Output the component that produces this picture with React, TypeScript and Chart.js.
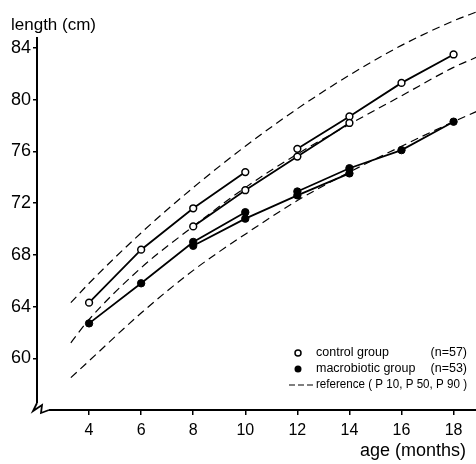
import React, { useEffect, useRef } from "react";
import { Chart, registerables } from "chart.js";

Chart.register(...registerables);

// ---- data ----
const ageTicks = [4, 6, 8, 10, 12, 14, 16, 18];
const lengthTicks = [60, 64, 68, 72, 76, 80, 84];

const controlAgeA = [4, 6, 8, 10];
const controlLenA = [64.3, 68.4, 71.6, 74.4];
const controlAgeB = [8, 10, 12, 14];
const controlLenB = [70.2, 73.0, 75.6, 78.2];
const controlAgeC = [12, 14, 16, 18];
const controlLenC = [76.2, 78.7, 81.3, 83.5];

const macroAgeA = [4, 6, 8, 10];
const macroLenA = [62.7, 65.8, 69.0, 71.3];
const macroAgeB = [8, 10, 12, 14];
const macroLenB = [68.7, 70.8, 72.6, 74.3];
const macroAgeC = [12, 14, 16, 18];
const macroLenC = [72.9, 74.7, 76.1, 78.3];

const refAge = [3.3, 4, 6, 8, 10, 12, 14, 16, 18, 18.9];
const refP90 = [64.3, 65.8, 69.7, 73.2, 76.4, 79.3, 81.9, 84.2, 86.1, 86.8];
const refP50 = [61.2, 63.0, 67.0, 70.2, 73.2, 75.8, 78.1, 80.3, 82.5, 83.3];
const refP10 = [58.5, 59.8, 63.5, 66.8, 69.6, 72.2, 74.4, 76.4, 78.3, 79.1];

const legendLabels = ["control group", "macrobiotic group", "reference ( P 10, P 50, P 90 )"];
const legendN = ["(n=57)", "(n=53)"];

const FONT = "'Liberation Sans', 'DejaVu Sans', sans-serif";

const pts = (xs: number[], ys: number[]) => xs.map((x, i) => ({ x, y: ys[i] }));

const controlStyle = {
  borderColor: "#000",
  borderWidth: 1.8,
  pointRadius: 3.4,
  pointBorderWidth: 1.5,
  pointBackgroundColor: "#fff",
  pointBorderColor: "#000",
  showLine: true,
  tension: 0,
};
const macroStyle = {
  borderColor: "#000",
  borderWidth: 1.8,
  pointRadius: 3.7,
  pointBorderWidth: 1,
  pointBackgroundColor: "#000",
  pointBorderColor: "#000",
  showLine: true,
  tension: 0,
};
const refStyle = {
  borderColor: "#000",
  borderWidth: 1.2,
  borderDash: [8, 5],
  pointRadius: 0,
  showLine: true,
  clip: false,
  cubicInterpolationMode: "monotone" as const,
};

const decor = {
  id: "decor",
  afterDraw(chart: any) {
    const { ctx } = chart;
    const x = chart.scales.x;
    const y = chart.scales.y;
    const x0 = x.getPixelForValue(2);
    const yTop = y.getPixelForValue(84) - 11;
    const yBot = y.getPixelForValue(56);
    ctx.save();
    ctx.fillStyle = "#000";
    // y axis line
    ctx.fillRect(x0 - 1, yTop, 2, yBot - 7 - yTop);
    // break symbol + x axis
    ctx.strokeStyle = "#000";
    ctx.lineWidth = 1.8;
    ctx.beginPath();
    ctx.moveTo(x0, yBot - 7);
    ctx.lineTo(x0 - 4, yBot + 1);
    ctx.lineTo(x0 + 5, yBot - 5);
    ctx.lineTo(x0 + 4, yBot + 3);
    ctx.lineTo(x0 + 12, yBot);
    ctx.stroke();
    ctx.fillRect(x0 + 12, yBot - 1, chart.width - x0 - 12, 2);

    // axis titles
    ctx.textBaseline = "middle";
    ctx.textAlign = "left";
    ctx.font = `17px ${FONT}`;
    ctx.fillText("length (cm)", 11, 25);
    ctx.textAlign = "right";
    ctx.font = `18px ${FONT}`;
    ctx.fillText("age (months)", 466, 451);

    // legend
    ctx.font = `12.5px ${FONT}`;
    ctx.textAlign = "left";
    const ly = [353, 369, 385];
    ctx.lineWidth = 1.5;
    ctx.beginPath();
    ctx.arc(298, ly[0], 3, 0, Math.PI * 2);
    ctx.fillStyle = "#fff";
    ctx.fill();
    ctx.stroke();
    ctx.beginPath();
    ctx.arc(298, ly[1], 3.5, 0, Math.PI * 2);
    ctx.fillStyle = "#000";
    ctx.fill();
    ctx.lineWidth = 1.2;
    ctx.setLineDash([6, 3]);
    ctx.beginPath();
    ctx.moveTo(289, ly[2]);
    ctx.lineTo(314, ly[2]);
    ctx.stroke();
    ctx.setLineDash([]);
    ctx.fillStyle = "#000";
    ctx.fillText(legendLabels[0], 316, ly[0]);
    ctx.fillText(legendLabels[1], 316, ly[1]);
    ctx.fillText(legendLabels[2], 316, ly[2], 151);
    ctx.textAlign = "right";
    for (let i = 0; i < 2; i++) ctx.fillText(legendN[i], 467, ly[i]);
    ctx.restore();
  },
};

export default function App() {
  const ref = useRef<HTMLCanvasElement>(null);
  useEffect(() => {
    if (!ref.current) return;
    const chart = new Chart(ref.current, {
      type: "scatter",
      data: {
        datasets: [
          { data: pts(controlAgeA, controlLenA), ...controlStyle },
          { data: pts(controlAgeB, controlLenB), ...controlStyle },
          { data: pts(controlAgeC, controlLenC), ...controlStyle },
          { data: pts(macroAgeA, macroLenA), ...macroStyle },
          { data: pts(macroAgeB, macroLenB), ...macroStyle },
          { data: pts(macroAgeC, macroLenC), ...macroStyle },
          { data: pts(refAge, refP90), ...refStyle },
          { data: pts(refAge, refP50), ...refStyle },
          { data: pts(refAge, refP10), ...refStyle },
        ] as any,
      },
      options: {
        animation: false,
        responsive: false,
        devicePixelRatio: 1,
        layout: { padding: { top: 7, right: 0, left: 0, bottom: 0 } },
        plugins: { legend: { display: false }, tooltip: { enabled: false } },
        scales: {
          x: {
            type: "linear",
            min: 2,
            max: 18.65,
            afterBuildTicks: (s: any) => {
              s.ticks = ageTicks.map((v) => ({ value: v }));
            },
            afterFit: (s: any) => {
              s.height = 54;
              s.paddingLeft = 0;
              s.paddingRight = 0;
            },
            border: { display: false },
            grid: {
              display: true,
              drawOnChartArea: false,
              drawTicks: true,
              tickLength: 5,
              color: "#000",
              lineWidth: 1.5,
            },
            ticks: {
              color: "#000",
              font: { family: FONT, size: 16 },
              padding: 6,
              maxRotation: 0,
              autoSkip: false,
              callback: (v: any) => String(v),
            },
          },
          y: {
            type: "linear",
            min: 56,
            max: 87.17,
            afterBuildTicks: (s: any) => {
              s.ticks = lengthTicks.map((v) => ({ value: v }));
            },
            afterFit: (s: any) => {
              s.width = 37;
              s.paddingTop = 0;
              s.paddingBottom = 0;
            },
            border: { display: false },
            grid: {
              display: true,
              drawOnChartArea: false,
              drawTicks: true,
              tickLength: 4,
              color: "#000",
              lineWidth: 1.5,
            },
            ticks: {
              color: "#000",
              font: { family: FONT, size: 18 },
              padding: 2,
              autoSkip: false,
              callback: (v: any) => String(v),
            },
          },
        },
      },
      plugins: [decor],
    });
    return () => chart.destroy();
  }, []);
  return (
    <div style={{ position: "fixed", left: 0, top: 0, width: 476, height: 464, background: "#fff" }}>
      <canvas ref={ref} width={476} height={464} />
    </div>
  );
}
